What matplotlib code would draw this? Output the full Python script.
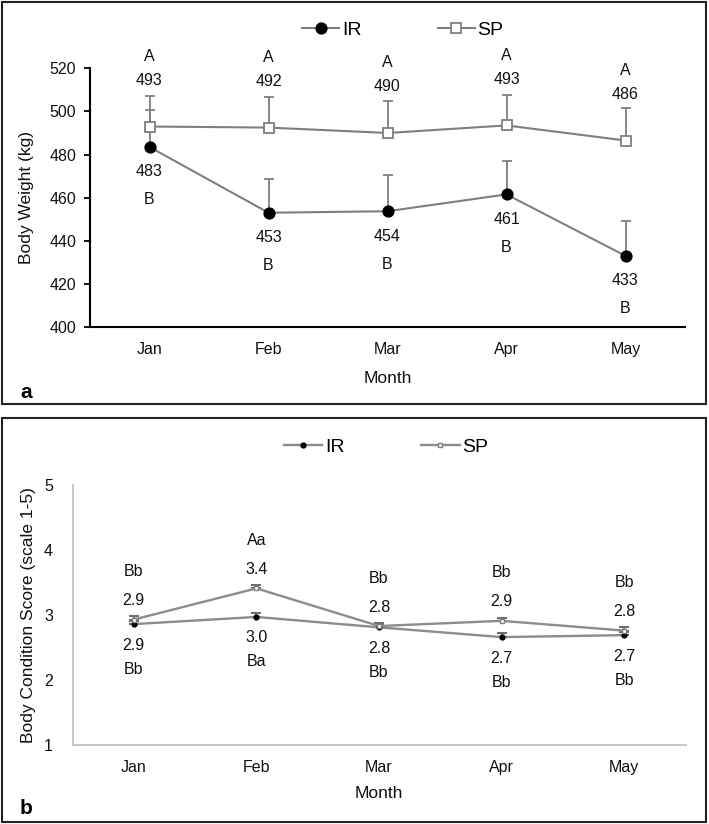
import matplotlib
matplotlib.use('Agg')
import matplotlib.pyplot as plt
from matplotlib.patches import Rectangle
from matplotlib.lines import Line2D

plt.rcParams['font.family'] = ['Liberation Sans', 'DejaVu Sans']

months = ['Jan', 'Feb', 'Mar', 'Apr', 'May']

# panel a - body weight (kg)
bw_ir = [483.5, 453, 453.7, 461.5, 433]
bw_ir_err = [17, 15.6, 17, 15.6, 16]
bw_sp = [493, 492.5, 490, 493.5, 486.5]
bw_sp_err = [14, 14, 15, 14, 15]
bw_ir_txt = ['483', '453', '454', '461', '433']
bw_sp_txt = ['493', '492', '490', '493', '486']
bw_ir_let = ['B', 'B', 'B', 'B', 'B']
bw_sp_let = ['A', 'A', 'A', 'A', 'A']

# panel b - body condition score
bcs_ir = [2.86, 2.97, 2.81, 2.66, 2.69]
bcs_ir_err = [0.05, 0.06, 0.04, 0.06, 0.05]
bcs_sp = [2.93, 3.41, 2.83, 2.91, 2.76]
bcs_sp_err = [0.06, 0.05, 0.05, 0.05, 0.05]
bcs_ir_txt = ['2.9', '3.0', '2.8', '2.7', '2.7']
bcs_sp_txt = ['2.9', '3.4', '2.8', '2.9', '2.8']
bcs_ir_let = ['Bb', 'Ba', 'Bb', 'Bb', 'Bb']
bcs_sp_let = ['Bb', 'Aa', 'Bb', 'Bb', 'Bb']

W, H = 709, 824
fig = plt.figure(figsize=(W / 100, H / 100), dpi=100)

grey = '#7f7f7f'
txt = '#111111'

# outer frames of both panels
for (x0, y0, x1, y1) in [(2, 2, 706, 404), (2, 418, 706, 822)]:
    fig.patches.append(Rectangle((x0 / W, 1 - y1 / H), (x1 - x0) / W, (y1 - y0) / H,
                                 transform=fig.transFigure, fill=False,
                                 edgecolor='#222222', linewidth=1.5))

x = list(range(len(months)))

# ---------- panel a ----------
ax = fig.add_axes([90 / W, 1 - 327 / H, 595 / W, (327 - 68.3) / H])
ax.errorbar(x, bw_ir, yerr=[[0] * 5, bw_ir_err], fmt='none', ecolor=grey,
            elinewidth=1.3, capsize=3.3, capthick=1.3, zorder=2)
ax.errorbar(x, bw_sp, yerr=[[0] * 5, bw_sp_err], fmt='none', ecolor=grey,
            elinewidth=1.3, capsize=3.3, capthick=1.3, zorder=2)
ax.plot(x, bw_ir, color=grey, lw=1.5, marker='o', ms=7.8, mfc='black', mec='black', zorder=3)
ax.plot(x, bw_sp, color=grey, lw=1.5, marker='s', ms=7.8, mfc='white', mec=grey, mew=1.3, zorder=3)

for i in x:
    ax.annotate(bw_sp_txt[i], (i, bw_sp[i]), xytext=(0, 46), textcoords='offset pixels',
                ha='center', va='center', fontsize=11.5, color=txt, annotation_clip=False)
    ax.annotate(bw_sp_let[i], (i, bw_sp[i]), xytext=(0, 70), textcoords='offset pixels',
                ha='center', va='center', fontsize=11.5, color=txt, annotation_clip=False)
    ax.annotate(bw_ir_txt[i], (i, bw_ir[i]), xytext=(0, -25), textcoords='offset pixels',
                ha='center', va='center', fontsize=11.5, color=txt, annotation_clip=False)
    ax.annotate(bw_ir_let[i], (i, bw_ir[i]), xytext=(0, -53), textcoords='offset pixels',
                ha='center', va='center', fontsize=11.5, color=txt, annotation_clip=False)

ax.set_xlim(-0.5, 4.5)
ax.set_ylim(400, 520)
ax.set_yticks(range(400, 521, 20))
ax.set_xticks(x)
ax.set_xticklabels(months)
for s in ['top', 'right']:
    ax.spines[s].set_visible(False)
ax.spines['left'].set_linewidth(1.5)
ax.spines['bottom'].set_linewidth(1.5)
ax.tick_params(axis='y', length=4, width=1.3, pad=6, labelsize=11.5, labelcolor=txt)
ax.tick_params(axis='x', length=0, pad=11, labelsize=11.5, labelcolor=txt)
ax.set_ylabel('Body Weight (kg)', fontsize=12.5, color=txt)
ax.yaxis.set_label_coords(-0.094, 0.5)
ax.set_xlabel('Month', fontsize=12.5, color=txt)
ax.xaxis.set_label_coords(0.5, -0.172)

hl_a = [Line2D([], [], color=grey, lw=1.5, marker='o', ms=7.8, mfc='black', mec='black'),
        Line2D([], [], color=grey, lw=1.5, marker='s', ms=7.8, mfc='white', mec=grey, mew=1.3)]
fig.legend(hl_a, ['IR', 'SP'], loc='center', bbox_to_anchor=(403 / W, 1 - 30 / H), ncol=2,
           frameon=False, fontsize=14, handlelength=1.9, handletextpad=0.15,
           columnspacing=3.9)
fig.text(20 / W, 1 - 393 / H, 'a', fontsize=15, fontweight='bold', ha='left', va='center')

# ---------- panel b ----------
bx = fig.add_axes([72.5 / W, 1 - 745 / H, 613 / W, 260 / H])
bx.errorbar(x, bcs_ir, yerr=[[0] * 5, bcs_ir_err], fmt='none', ecolor='#6e6e6e',
            elinewidth=1.5, capsize=3.5, capthick=1.5, zorder=2)
bx.errorbar(x, bcs_sp, yerr=[[0] * 5, bcs_sp_err], fmt='none', ecolor='#6e6e6e',
            elinewidth=1.5, capsize=3.5, capthick=1.5, zorder=2)
bx.plot(x, bcs_ir, color='#8c8c8c', lw=1.7, marker='o', ms=3.5, mfc='black', mec='black', zorder=3)
bx.plot(x, bcs_sp, color='#8c8c8c', lw=1.7, marker='s', ms=3.5, mfc='white', mec=grey, mew=1, zorder=3)

for i in x:
    bx.annotate(bcs_sp_txt[i], (i, bcs_sp[i]), xytext=(0, 19), textcoords='offset pixels',
                ha='center', va='center', fontsize=11.5, color=txt, annotation_clip=False)
    bx.annotate(bcs_sp_let[i], (i, bcs_sp[i]), xytext=(0, 48), textcoords='offset pixels',
                ha='center', va='center', fontsize=11.5, color=txt, annotation_clip=False)
    bx.annotate(bcs_ir_txt[i], (i, bcs_ir[i]), xytext=(0, -21), textcoords='offset pixels',
                ha='center', va='center', fontsize=11.5, color=txt, annotation_clip=False)
    bx.annotate(bcs_ir_let[i], (i, bcs_ir[i]), xytext=(0, -45), textcoords='offset pixels',
                ha='center', va='center', fontsize=11.5, color=txt, annotation_clip=False)

bx.set_xlim(-0.5, 4.5)
bx.set_ylim(1, 5)
bx.set_yticks([1, 2, 3, 4, 5])
bx.set_xticks(x)
bx.set_xticklabels(months)
for s in ['top', 'right']:
    bx.spines[s].set_visible(False)
for s in ['left', 'bottom']:
    bx.spines[s].set_color('#c8c8c8')
    bx.spines[s].set_linewidth(1.5)
bx.tick_params(axis='y', length=0, pad=14, labelsize=11.5, labelcolor=txt)
bx.tick_params(axis='x', length=0, pad=11, labelsize=11.5, labelcolor=txt)
bx.set_ylabel('Body Condition Score (scale 1-5)', fontsize=12.5, color=txt)
bx.yaxis.set_label_coords(-0.060, 0.5)
bx.set_xlabel('Month', fontsize=12.5, color=txt)
bx.xaxis.set_label_coords(0.5, -0.158)

hl_b = [Line2D([], [], color='#8c8c8c', lw=1.7, marker='o', ms=3.5, mfc='black', mec='black'),
        Line2D([], [], color='#8c8c8c', lw=1.7, marker='s', ms=3.5, mfc='white', mec=grey, mew=1)]
fig.legend(hl_b, ['IR', 'SP'], loc='center', bbox_to_anchor=(386 / W, 1 - 447 / H), ncol=2,
           frameon=False, fontsize=14, handlelength=2.0, handletextpad=0.15,
           columnspacing=3.9)
fig.text(20 / W, 1 - 808 / H, 'b', fontsize=15, fontweight='bold', ha='left', va='center')

fig.savefig('out.png', dpi=100)
